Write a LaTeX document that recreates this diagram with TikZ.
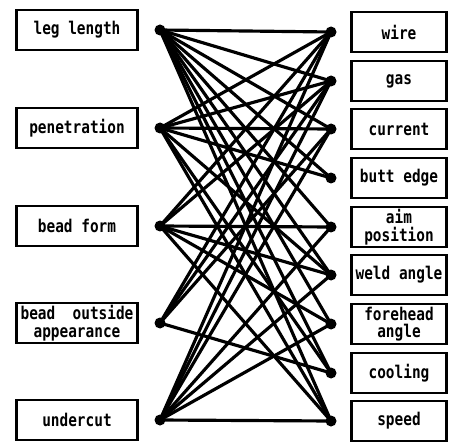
\documentclass[tikz,border=0pt]{standalone}
\usepackage{fontspec}
\setmonofont[FakeStretch=0.82]{DejaVu Sans Mono}
\usetikzlibrary{positioning}

\begin{document}
\begin{tikzpicture}[x=0.02cm,y=-0.02cm,
    factor/.style={rectangle,draw,line width=1.2pt,minimum width=2.42cm,minimum height=0.8cm,
        align=center,inner sep=1pt,font=\ttfamily\bfseries\fontsize{10}{10}\selectfont},
    cond/.style={factor,minimum width=1.9cm},
    knot/.style={circle,fill,inner sep=0pt,minimum size=0.22cm},
    link/.style={line width=1.8pt}]
    \useasboundingbox (0,0) rectangle (456,442);

    % welding quality
    \foreach \i/\y/\txt in {1/30/leg length, 2/128/penetration, 3/226/bead form,
                            4/323/{bead\ \ outside\\appearance}, 5/420/undercut} {
        \node[factor] (q\i) at (77,\y) {\txt};
        \node[knot] (qd\i) at (160,\y) {};
    }

    % welding conditions
    \foreach \j/\y/\txt in {1/32/wire, 2/81/gas, 3/129/current, 4/178/butt edge,
                            5/227/{aim\\position}, 6/275/weld angle, 7/324/{forehead\\angle},
                            8/373/cooling, 9/421/speed} {
        \node[cond] (c\j) at (399,\y) {\txt};
        \node[knot] (cd\j) at (331,\y) {};
    }

    % relations
    \foreach \i/\j in {1/1,1/2,1/3,1/4,1/5,1/6,1/7,1/8,1/9,
                       2/1,2/2,2/3,2/4,2/6,2/8,2/9,
                       3/1,3/2,3/5,3/6,3/7,3/9,
                       4/1,4/2,4/3,4/8,
                       5/1,5/2,5/3,5/5,5/6,5/7,5/9}
        \draw[link] (qd\i.center) -- (cd\j.center);
\end{tikzpicture}
\end{document}
